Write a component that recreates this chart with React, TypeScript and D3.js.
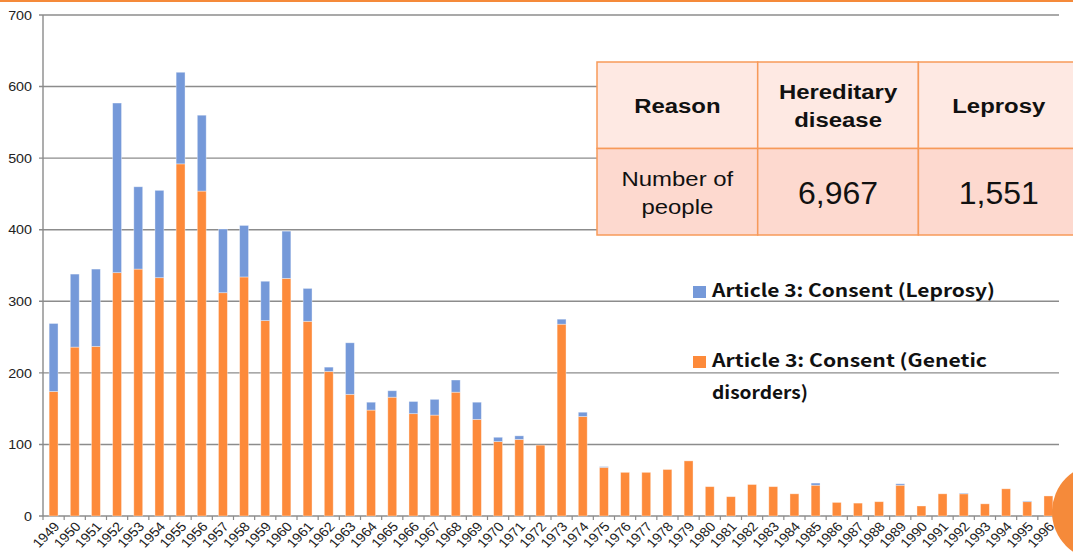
import * as d3 from "d3";

// categories
const years = [
  "1949", "1950", "1951", "1952", "1953", "1954", "1955", "1956", "1957", "1958",
  "1959", "1960", "1961", "1962", "1963", "1964", "1965", "1966", "1967", "1968",
  "1969", "1970", "1971", "1972", "1973", "1974", "1975", "1976", "1977", "1978",
  "1979", "1980", "1981", "1982", "1983", "1984", "1985", "1986", "1987", "1988",
  "1989", "1990", "1991", "1992", "1993", "1994", "1995", "1996",
];

// Article 3: Consent (Genetic disorders)
const genetic = [
  174, 236, 237, 340, 345, 333, 492, 454, 312, 334,
  273, 332, 272, 202, 170, 148, 166, 143, 141, 173,
  135, 104, 107, 99, 268, 139, 68, 61, 61, 65,
  77, 41, 27, 44, 41, 31, 43, 19, 18, 20,
  43, 14, 31, 31, 17, 38, 20, 28,
];

// Article 3: Consent (Leprosy)
const leprosy = [
  95, 102, 108, 237, 115, 122, 128, 106, 89, 72,
  55, 66, 46, 6, 72, 11, 9, 17, 22, 17,
  24, 6, 5, 0, 7, 6, 1, 0, 0, 0,
  0, 0, 0, 0, 0, 0, 3, 0, 0, 0,
  2, 0, 0, 1, 0, 0, 1, 0,
];

const yTicks = [0, 100, 200, 300, 400, 500, 600, 700];

const seriesKeys = ["genetic", "leprosy"];
const seriesColors = ["#fd8a3a", "#7599d9"];
const legendItems = [
  { lines: ["Article 3: Consent (Leprosy)"], widths: [283], color: "#7599d9" },
  { lines: ["Article 3: Consent (Genetic", "disorders)"], widths: [275, 96], color: "#fd8a3a" },
];

const tableHeader = [["Reason"], ["Hereditary", "disease"], ["Leprosy"]];
const tableValues = [["Number of", "people"], ["6,967"], ["1,551"]];

const W = 1073;
const H = 556;
const plot = { left: 43, right: 1059, top: 15, bottom: 516 };

export default function App() {
  const x = d3
    .scaleBand()
    .domain(years)
    .range([plot.left, plot.right])
    .paddingInner(0.58)
    .paddingOuter(0.29);
  const y = d3.scaleLinear().domain([0, 700]).range([plot.bottom, plot.top]);

  const rows = years.map((yr, i) => ({ year: yr, genetic: genetic[i], leprosy: leprosy[i] }));
  const stacked = d3.stack<any>().keys(seriesKeys)(rows);

  const step = x.step();
  const half = (step - x.bandwidth()) / 2;
  const xTicks = years.map((yr) => (x(yr) as number) - half).concat([plot.right]);

  const font = "'Liberation Sans', Arial, sans-serif";
  const stretch = 1.14;

  // table geometry
  const tx = 597;
  const colW = 160.7;
  const ty = 62;
  const rowH = 86.5;
  const border = "#f79a5a";

  return (
    <svg
      width={W}
      height={H}
      style={{ position: "absolute", left: 0, top: 0, background: "#fff" }}
    >
      <rect x={0} y={0} width={W} height={2} fill="#f58a3a" />

      {/* grid + y axis */}
      {yTicks.map((t) => (
        <g key={t}>
          <line
            x1={plot.left - 4}
            x2={plot.right}
            y1={y(t)}
            y2={y(t)}
            stroke="#8c8c8c"
            strokeWidth={1.4}
          />
          <text
            transform={`translate(32,${y(t)}) scale(1.1,1)`}
            dy="0.36em"
            textAnchor="end"
            fontFamily={font}
            fontSize={13}
            fill="#222"
          >
            {t}
          </text>
        </g>
      ))}
      <line x1={plot.left} x2={plot.left} y1={plot.top} y2={plot.bottom} stroke="#8a8a8a" strokeWidth={1.4} />

      {/* bars */}
      {stacked.map((s, si) => (
        <g key={s.key} fill={seriesColors[si]}>
          {s.map((d, i) => {
            const h = y(d[0]) - y(d[1]);
            if (h <= 0) return null;
            return (
              <rect
                key={i}
                x={x(years[i])}
                y={y(d[1])}
                width={x.bandwidth()}
                height={h}
                stroke="#fff"
                strokeOpacity={0.45}
                strokeWidth={0.8}
              />
            );
          })}
        </g>
      ))}

      {/* x axis */}
      {xTicks.map((tx0, i) => (
        <line key={i} x1={tx0} x2={tx0} y1={plot.bottom} y2={plot.bottom + 4} stroke="#8a8a8a" strokeWidth={1.2} />
      ))}
      {years.map((yr) => {
        const cx = (x(yr) as number) + x.bandwidth() / 2 + 3;
        const cy = plot.bottom + 8;
        return (
          <text
            key={yr}
            transform={`translate(${cx},${cy}) scale(1.1,1) rotate(-48)`}
            textAnchor="end"
            dy="0.35em"
            fontFamily={font}
            fontSize={13}
            fill="#222"
          >
            {yr}
          </text>
        );
      })}

      {/* legend */}
      {legendItems.map((item, i) => {
        const ly = 297 + i * 70;
        return (
          <g key={i}>
            <rect x={693} y={ly - 11} width={13} height={12} fill={item.color} />
            {item.lines.map((ln, j) => (
              <text
                key={j}
                x={712}
                y={ly + j * 32}
                textLength={item.widths[j]}
                lengthAdjust="spacingAndGlyphs"
                fontFamily="'Noto Sans CJK JP', sans-serif"
                fontWeight="bold"
                fontSize={18}
                fill="#111"
              >
                {ln}
              </text>
            ))}
          </g>
        );
      })}

      {/* table */}
      {tableHeader.map((_, c) => (
        <g key={c}>
          <rect x={tx + c * colW} y={ty} width={colW} height={rowH} fill="#fee9e3" stroke={border} strokeWidth={1.5} />
          <rect x={tx + c * colW} y={ty + rowH} width={colW} height={rowH} fill="#fdd9cf" stroke={border} strokeWidth={1.5} />
        </g>
      ))}
      {tableHeader.map((lines, c) => {
        const cx = tx + c * colW + colW / 2;
        return (
          <g key={"h" + c} transform={`translate(${cx},0) scale(${stretch},1)`}>
            <text textAnchor="middle" fontFamily={font} fontWeight="bold" fontSize={21} fill="#111">
              {lines.map((ln, j) => (
                <tspan key={j} x={0} y={ty + rowH / 2 + 8 + (j - (lines.length - 1) / 2) * 28}>
                  {ln}
                </tspan>
              ))}
            </text>
          </g>
        );
      })}
      {tableValues.map((lines, c) => {
        const cx = tx + c * colW + colW / 2;
        return (
          <g key={"v" + c} transform={`translate(${cx},0) scale(${c === 0 ? stretch : 1},1)`}>
            <text textAnchor="middle" fontFamily={font} fontSize={c === 0 ? 21 : 32} fill="#111">
              {lines.map((ln, j) => (
                <tspan
                  key={j}
                  x={0}
                  y={ty + rowH + rowH / 2 + (c === 0 ? 8 : 12) + (j - (lines.length - 1) / 2) * 28}
                >
                  {ln}
                </tspan>
              ))}
            </text>
          </g>
        );
      })}

      {/* decorative circle */}
      <circle cx={1100} cy={512} r={48} fill="#f58a3a" />
    </svg>
  );
}
